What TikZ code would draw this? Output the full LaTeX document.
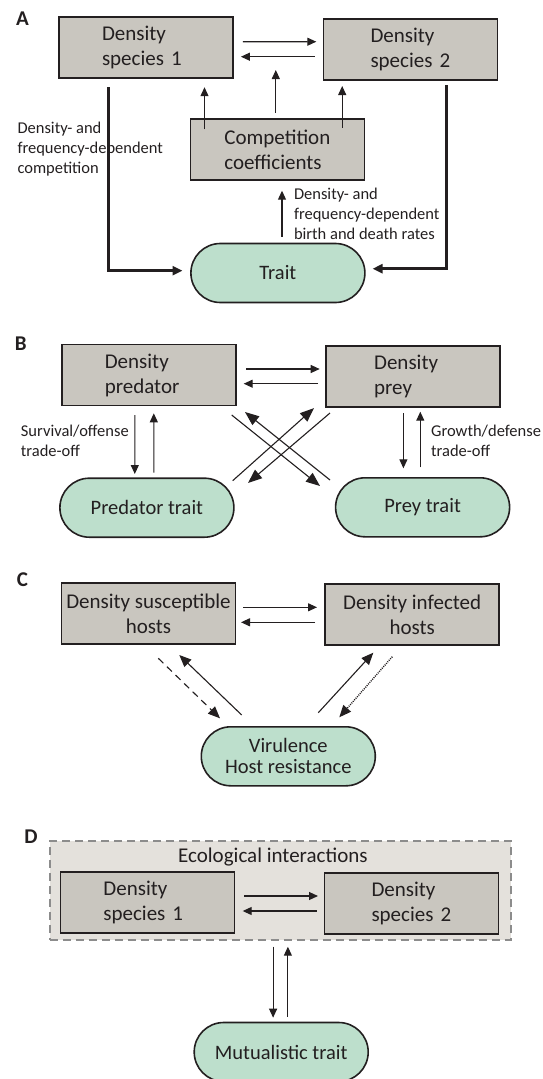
\documentclass[tikz,border=0pt]{standalone}
\usepackage{fontspec}
\setmainfont{Carlito}
\usetikzlibrary{arrows.meta,shapes.misc,calc}

\definecolor{boxgray}{HTML}{C9C6BF}
\definecolor{traitgreen}{HTML}{BDDFCC}
\definecolor{panelgray}{HTML}{E4E1DC}
\definecolor{inkgray}{HTML}{231F20}

\begin{document}
\begin{tikzpicture}[x=1pt,y=-1pt,
		dens/.style={draw=inkgray,line width=1.8pt,fill=boxgray,minimum width=174pt,minimum height=61pt,inner sep=0pt,text width=88pt,align=left,text=inkgray,font=\fontsize{21}{25}\selectfont},
		trait/.style={rounded rectangle,draw=inkgray,line width=1.6pt,fill=traitgreen,minimum width=174pt,minimum height=59pt,inner sep=0pt,align=center,text=inkgray,font=\fontsize{20.5}{21}\selectfont},
		ecobox/.style={draw=black!45,line width=1.6pt,dash pattern=on 8pt off 5pt,fill=panelgray,minimum width=461pt,minimum height=99pt,inner sep=0pt},
		lbl/.style={align=left,anchor=west,inner sep=0pt,text=inkgray,font=\fontsize{16.5}{20}\selectfont},
		panel/.style={inner sep=0pt,text=inkgray,font=\fontsize{21}{21}\selectfont\bfseries},
		arr/.style={draw=inkgray,line width=1.1pt,-{Triangle[length=9pt,width=8pt]}},
		bigarr/.style={draw=inkgray,line width=1.1pt,-{Triangle[length=14pt,width=11pt]}},
		midarr/.style={draw=inkgray,line width=1.1pt,-{Triangle[length=12pt,width=10pt]}},
		fat/.style={draw=inkgray,line width=2.6pt,-{Triangle[length=10pt,width=9pt]}}]
				\useasboundingbox (0,0) rectangle (542,1079);
				% Panel A
				\node[panel] (labA) at (22.5,18.3) {A};
				\node[dens] (ds1A) at (146,47.8) {Density\\species~1};
				\node[dens,text width=80pt] (ds2A) at (410.5,49.2) {Density\\species~2};
				\node[dens,text width=106pt] (compA) at (277.4,149.8) {Competition\\coefficients};
				\node[trait] (traitA) at (277.9,273) {Trait};
				\node[lbl] (txtA1) at (17.3,149) {Density- and\\frequency-dependent\\competition};
				\node[lbl] (txtA2) at (293.8,213.8) {Density- and\\frequency-dependent\\birth and death rates};
				\draw[arr,shorten <=9pt,shorten >=6.3pt] ([yshift=6pt]ds1A.east) -- ([yshift=7.5pt]ds2A.west);
				\draw[arr,shorten <=8pt,shorten >=7pt] ([yshift=-7.5pt]ds2A.west) -- ([yshift=-8.9pt]ds1A.east);
				\coordinate (cA1) at ($(compA.north west)+(15,11)$);
				\coordinate (cA3) at ($(compA.north east)+(-23.1,9.3)$);
				\draw[arr,shorten >=8pt] (cA1) -- (cA1 |- ds1A.south);
				\draw[arr] ([xshift=-1.6pt,yshift=5.7pt]compA.north) -- ++(0,-42.7);
				\draw[arr,shorten >=5.4pt] (cA3) -- (cA3 |- ds2A.south);
				\draw[fat,shorten <=8pt,shorten >=7.6pt] ([xshift=-37.8pt]ds1A.south) |- ([yshift=2.3pt]traitA.west);
				\draw[fat,shorten <=4.4pt,shorten >=6.9pt] ([xshift=35.7pt]ds2A.south) |- ([yshift=4.3pt]traitA.east);
				\draw[arr,shorten <=6pt,shorten >=9.5pt] ([xshift=4.1pt]traitA.north) -- ([xshift=4.6pt]compA.south);
				% Panel B
				\node[panel] (labB) at (20.7,343.3) {B};
				\node[dens] (predB) at (148.8,375) {Density\\predator};
				\node[dens,text width=78pt] (preyB) at (413.1,376.7) {Density\\prey};
				\node[trait] (predT) at (146.9,507.7) {Predator trait};
				\node[trait] (preyT) at (422.6,507.3) {Prey trait};
				\node[lbl] (txtB1) at (20.7,441) {Survival/offense\\trade-off};
				\node[lbl] (txtB2) at (431,441) {Growth/defense\\trade-off};
				\draw[arr,shorten <=9.4pt,shorten >=5.5pt] ([yshift=6pt]predB.east) -- ([yshift=7.7pt]preyB.west);
				\draw[arr,shorten <=7.2pt,shorten >=7pt] ([yshift=-7pt]preyB.west) -- ([yshift=-8.7pt]predB.east);
				\draw[arr,shorten <=8.6pt,shorten >=3.4pt] ([xshift=-14pt]predB.south) -- ([xshift=-12.1pt]predT.north);
				\draw[arr,shorten <=4.7pt,shorten >=6.9pt] ([xshift=6.9pt]predT.north) -- ([xshift=5pt]predB.south);
				\draw[arr,shorten <=5.2pt,shorten >=8.7pt] ([xshift=-9.7pt]preyB.south) -- ([xshift=-19.2pt]preyT.north);
				\draw[arr,shorten <=9.7pt,shorten >=3.6pt] ([xshift=-2.3pt]preyT.north) -- ([xshift=7.2pt]preyB.south);
				\draw[bigarr] ($(predB.south east)+(-5,8.6)$) -- ($(preyT.north)+(-102.6,9)$);
				\draw[bigarr] ($(preyT.north)+(-92.6,3)$) -- ($(predB.south east)+(8.3,5.6)$);
				\draw[bigarr] ($(predT.north)+(85.8,3.3)$) -- ($(preyB.south west)+(-11.2,0)$);
				\draw[bigarr] ($(preyB.south west)+(4.8,4.9)$) -- ($(predT.north)+(101.1,5.6)$);
				% Panel C
				\node[panel] (labC) at (22.5,579.3) {C};
				\node[dens,text width=,align=center] (susC) at (148.5,613.7) {Density susceptible\\hosts};
				\node[dens,text width=,align=center] (infC) at (412.2,614.7) {Density infected\\hosts};
				\node[trait] (virC) at (288.3,756.3) {Virulence\\Host resistance};
				\draw[arr,shorten <=6.6pt,shorten >=7.3pt] ([yshift=6.4pt]susC.east) -- ([yshift=7.4pt]infC.west);
				\draw[arr,shorten <=9.1pt,shorten >=4.6pt] ([yshift=-7.6pt]infC.west) -- ([yshift=-8.6pt]susC.east);
				\draw[midarr,dash pattern=on 7pt off 5pt] ($(susC.south)+(9.8,13.2)$) -- ($(virC.north)+(-68.3,-7.7)$);
				\draw[midarr] ($(virC.north)+(-46.6,-11)$) -- ($(susC.south)+(30.8,9.9)$);
				\draw[midarr] ($(virC.north)+(30,-13.3)$) -- ($(infC.south)+(-38.9,6.6)$);
				\draw[midarr,line width=1.4pt,dash pattern=on 1pt off 1.1pt] ($(infC.south)+(-19.9,10.6)$) -- ($(virC.north)+(51,-8.7)$);
				% Panel D
				\node[panel] (labD) at (31.1,836.7) {D};
				\node[ecobox] (ecoD) at (280.2,890.4) {};
				\node[text=inkgray,font=\fontsize{21}{21}\selectfont] (ecoT) at (272.9,857.3) {Ecological interactions};
				\node[dens] (sp1D) at (147.4,902.7) {Density\\species~1};
				\node[dens,text width=80pt] (sp2D) at (411.5,903.5) {Density\\species~2};
				\node[trait] (mutD) at (281.2,1052) {Mutualistic trait};
				\draw[arr,shorten <=9.1pt,shorten >=5.6pt] ([yshift=6.7pt]sp1D.east) -- ([yshift=7.5pt]sp2D.west);
				\draw[arr,shorten <=7pt,shorten >=7.4pt] ([yshift=-7.5pt]sp2D.west) -- ([yshift=-8.3pt]sp1D.east);
				\draw[arr,shorten <=6pt,shorten >=4pt] ([xshift=-7.1pt]ecoD.south) -- ([xshift=-8.1pt]mutD.north);
				\draw[arr,shorten <=5pt,shorten >=6pt] ([xshift=6.7pt]mutD.north) -- ([xshift=7.7pt]ecoD.south);
			\end{tikzpicture}
\end{document}
